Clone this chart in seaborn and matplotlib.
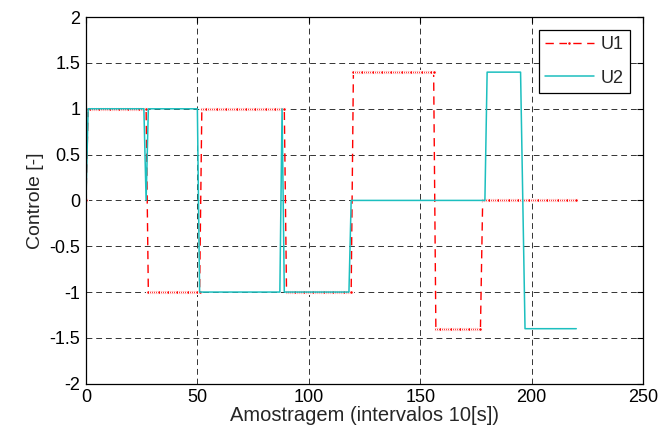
import numpy as np
import pandas as pd
import matplotlib
matplotlib.use("Agg")
import matplotlib.pyplot as plt
import seaborn as sns

# Run-length description of the two control signals (level, number of samples)
u1_levels = [0, 1, -1, 1, -1, 1.4, -1.4, 0]
u1_runs = [1, 27, 24, 38, 30, 37, 21, 43]
u2_levels = [0, 1, 0, 1, -1, 1, -1, 0, 1.4, 0, -1.4]
u2_runs = [1, 26, 1, 23, 37, 1, 30, 61, 16, 1, 24]

x_ticks = [0, 50, 100, 150, 200, 250]
y_ticks = [-2, -1.5, -1, -0.5, 0, 0.5, 1, 1.5, 2]
y_tick_labels = ["-2", "-1.5", "-1", "-0.5", "0", "0.5", "1", "1.5", "2"]

u1 = np.repeat(u1_levels, u1_runs)
u2 = np.repeat(u2_levels, u2_runs)
k = np.arange(len(u1))
df = pd.DataFrame({"k": k, "U1": u1, "U2": u2})

sns.set_theme(style="white")
plt.rcParams["font.family"] = ["Liberation Sans", "DejaVu Sans"]
plt.rcParams["axes.unicode_minus"] = False

fig = plt.figure(figsize=(6.61, 4.40), dpi=100)
ax = fig.add_axes([0.130, 0.128, 0.843, 0.833])

sns.lineplot(data=df, x="k", y="U1", ax=ax, color="#ff0000", linestyle=(0, (6, 4)),
             linewidth=1.0, marker=".", markersize=5.5, markeredgewidth=0.9,
             label="U1", estimator=None, sort=False)
sns.lineplot(data=df, x="k", y="U2", ax=ax, color="#1cbfbf", linewidth=1.1,
             label="U2", estimator=None, sort=False)

ax.set_xlim(0, 250)
ax.set_ylim(-2, 2)
ax.set_xticks(x_ticks)
ax.set_xticklabels([str(v) for v in x_ticks])
ax.set_yticks(y_ticks)
ax.set_yticklabels(y_tick_labels)
ax.tick_params(direction="in", length=4, width=0.8, top=True, right=True,
               labelsize=13, colors="black", pad=4)
ax.grid(True, color="#333333", linestyle=(0, (6, 4)), linewidth=0.7)
for s in ax.spines.values():
    s.set_color("black")
    s.set_linewidth(0.9)
    s.set_visible(True)

ax.set_xlabel("Amostragem (intervalos 10[s])", fontsize=14.5, labelpad=0)
ax.set_ylabel("Controle [-]", fontsize=14, labelpad=4)

leg = ax.legend(loc="upper right", bbox_to_anchor=(0.982, 0.975), fontsize=13,
                frameon=True, fancybox=False, framealpha=1, edgecolor="black",
                borderpad=0.35, handlelength=2.7, labelspacing=0.9, handletextpad=0.35,
                borderaxespad=0.2)
leg.get_frame().set_linewidth(0.9)

fig.savefig("out.png", dpi=100)
